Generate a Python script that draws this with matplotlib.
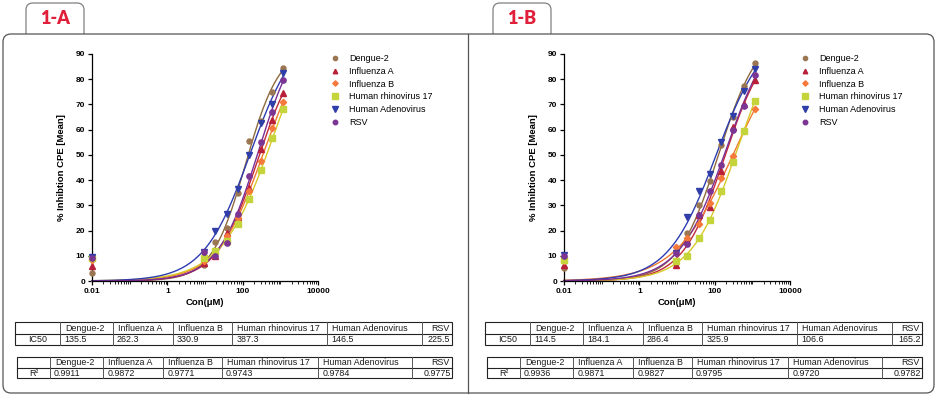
import numpy as np
import matplotlib
matplotlib.use("Agg")
import matplotlib.pyplot as plt
from matplotlib.patches import FancyBboxPatch, Rectangle
from matplotlib.ticker import FixedLocator, LogLocator, NullFormatter, FixedFormatter
from matplotlib.lines import Line2D

plt.rcParams['font.family'] = ['Liberation Sans', 'DejaVu Sans']

# ---------------- data ----------------
conc = [0.01, 9.375, 18.75, 37.5, 75, 150, 300, 600, 1200]
series_names = ["Dengue-2", "Influenza A", "Influenza B", "Human rhinovirus 17",
                "Human Adenovirus", "RSV"]

dengue_a = [3, 6.5, 15.5, 21, 35, 55.5, 63.5, 75, 84.5]
fluA_a = [6, 7, 10, 19, 25.5, 37, 52.5, 64, 74.5]
fluB_a = [8.5, 8, 11, 18, 25, 35.5, 47.5, 60.5, 71]
hrv_a = [9, 9, 12, 16, 22.5, 32.5, 44, 56.5, 68]
adeno_a = [9.5, 11.5, 20, 26.5, 36.5, 50, 62.5, 70, 82.5]
rsv_a = [9, 11.5, 10, 15, 26.5, 41.5, 55, 67, 79.5]

dengue_b = [5, 7, 19, 30, 39.5, 54, 65, 77.5, 86.5]
fluA_b = [6.5, 6.5, 16, 26, 29.5, 43.5, 61, 70, 79.5]
fluB_b = [8, 13.5, 17, 22.5, 31, 41, 49.5, 59.5, 68]
hrv_b = [8.5, 8, 10, 17, 24, 35.5, 47, 59.5, 71.5]
adeno_b = [10.5, 11, 25.5, 35.5, 42.5, 55, 65.5, 75.5, 84]
rsv_b = [10, 11, 14.5, 26, 35.5, 46, 60, 69.5, 81.5]

ic50_a = ["135.5", "262.3", "330.9", "387.3", "146.5", "225.5"]
r2_a = ["0.9911", "0.9872", "0.9771", "0.9743", "0.9784", "0.9775"]
ic50_b = ["114.5", "184.1", "286.4", "325.9", "106.6", "165.2"]
r2_b = ["0.9936", "0.9871", "0.9827", "0.9795", "0.9720", "0.9782"]

xtick_vals = [0.01, 1, 100, 10000]
xtick_labels = ["0.01", "1", "100", "10000"]
ytick_vals = [0, 10, 20, 30, 40, 50, 60, 70, 80, 90]

# ---------------- styles ----------------
marker_colors = ["#9b7653", "#b8203a", "#f5793a", "#c5d43a", "#2f3ea8", "#7b3593"]
line_colors = ["#8d6a3e", "#c0283a", "#f07a30", "#d8c828", "#2d3cb0", "#7a2f95"]
markers = ["o", "^", "D", "s", "v", "o"]
msizes = [3.6, 3.8, 3.2, 4.4, 4.4, 3.8]

W, H = 937, 397
fig = plt.figure(figsize=(W / 100, H / 100), dpi=100)

ov = fig.add_axes([0, 0, 1, 1], zorder=0)
ov.set_xlim(0, W)
ov.set_ylim(H, 0)
ov.axis('off')

# frame + tabs
for tx, lab in [(26, "1-A"), (493, "1-B")]:
    ov.add_patch(FancyBboxPatch((tx, 3), 58, 45, boxstyle="round,pad=0,rounding_size=7",
                                facecolor="white", edgecolor="#808080", lw=0.9, zorder=1))
    ov.text(tx + 29, 19, lab, color="#e0203a", fontsize=13, fontweight="heavy",
            family=["Lato", "DejaVu Sans"], ha="center", va="center", zorder=3)
ov.add_patch(FancyBboxPatch((3, 34), 931, 359, boxstyle="round,pad=0,rounding_size=8",
                            facecolor="white", edgecolor="#555555", lw=0.9, zorder=2))
ov.plot([468, 468], [34, 393], color="#555555", lw=0.9, zorder=3)


def fit_hill(x, y):
    x = np.asarray(x, float)
    y = np.asarray(y, float)
    tops = np.arange(60, 160, 1.0)
    lecs = np.arange(0.5, 4.0, 0.02)
    best = (np.inf, None)
    for h in np.arange(0.5, 3.0, 0.02):
        T = tops[:, None, None]
        L = lecs[None, :, None]
        pred = T / (1 + (10 ** L / x[None, None, :]) ** h)
        sse = ((pred - y[None, None, :]) ** 2).sum(axis=2)
        i = np.unravel_index(np.argmin(sse), sse.shape)
        if sse[i] < best[0]:
            best = (sse[i], (tops[i[0]], 10 ** lecs[i[1]], h))
    return best[1]


def draw_table(cols, y0, y1, y2, first, values):
    ov.add_patch(Rectangle((cols[0], y0), cols[-1] - cols[0], y2 - y0, fill=False,
                           edgecolor="#222222", lw=0.8, zorder=4))
    ov.plot([cols[0], cols[-1]], [y1, y1], color="#222222", lw=0.8, zorder=4)
    for c in cols[1:-1]:
        ov.plot([c, c], [y0, y2], color="#555555", lw=0.7, zorder=4)
    fs = 6.4
    tc = "#1a1a1a"
    ov.text((cols[0] + cols[1]) / 2, (y1 + y2) / 2 + 0.5, first, fontsize=fs, color=tc,
            ha="center", va="center", zorder=5)
    n = len(series_names)
    for k in range(n):
        if k == n - 1:
            ov.text(cols[k + 2] - 2.5, (y0 + y1) / 2 + 0.5, series_names[k], fontsize=fs,
                    color=tc, ha="right", va="center", zorder=5)
            ov.text(cols[k + 2] - 1.5, (y1 + y2) / 2 + 0.5, values[k], fontsize=fs,
                    color=tc, ha="right", va="center", zorder=5)
        else:
            ov.text(cols[k + 1] + 5, (y0 + y1) / 2 + 0.5, series_names[k], fontsize=fs,
                    color=tc, ha="left", va="center", zorder=5)
            ov.text(cols[k + 1] + 4, (y1 + y2) / 2 + 0.5, values[k], fontsize=fs,
                    color=tc, ha="left", va="center", zorder=5)


panels = [
    (0, [dengue_a, fluA_a, fluB_a, hrv_a, adeno_a, rsv_a], ic50_a, r2_a, 92),
    (470, [dengue_b, fluA_b, fluB_b, hrv_b, adeno_b, rsv_b], ic50_b, r2_b, 564),
]

for off, data, ic50, r2, axx in panels:
    ax = fig.add_axes([axx / W, (H - 281) / H, 226 / W, 227 / H], zorder=6)
    ax.patch.set_alpha(0)
    ax.set_xscale('log')
    xs = np.array(conc)
    xf = np.logspace(-2, np.log10(1200), 300)
    handles = []
    for k, yv in enumerate(data):
        yv = np.array(yv)
        T, ec, h = fit_hill(xs[1:], yv[1:])
        ax.plot(xf, T / (1 + (ec / xf) ** h), color=line_colors[k], lw=1.0, zorder=2,
                clip_on=False)
        ax.plot(xs, yv, linestyle="none", marker=markers[k], ms=msizes[k],
                color=marker_colors[k], mec=marker_colors[k], zorder=3, clip_on=False)
        handles.append(Line2D([], [], linestyle="none", marker=markers[k],
                              ms=msizes[k] * 0.85, color=marker_colors[k]))
    ax.set_xlim(0.01, 10000)
    ax.set_ylim(0, 90)
    ax.xaxis.set_major_locator(FixedLocator(xtick_vals))
    ax.xaxis.set_major_formatter(FixedFormatter(xtick_labels))
    ax.xaxis.set_minor_locator(LogLocator(base=10, subs=np.arange(1, 10), numticks=100))
    ax.xaxis.set_minor_formatter(NullFormatter())
    ax.set_yticks(ytick_vals)
    for s in ["top", "right"]:
        ax.spines[s].set_visible(False)
    for s in ["left", "bottom"]:
        ax.spines[s].set_linewidth(0.9)
    ax.tick_params(which="major", length=3, width=0.9, labelsize=6, pad=2)
    ax.tick_params(which="minor", length=1.8, width=0.6)
    for lbl in ax.get_xticklabels() + ax.get_yticklabels():
        lbl.set_fontweight("bold")
    ax.set_xlabel("Con(μM)", fontsize=6.8, fontweight="bold", labelpad=2)
    ax.set_ylabel("% Inhibtion CPE [Mean]", fontsize=6.8, fontweight="bold", labelpad=7)
    ax.legend(handles, series_names, loc="upper left",
              bbox_to_anchor=((331 + off) / W, (H - 54) / H),
              bbox_transform=fig.transFigure, frameon=False, fontsize=6.5,
              handlelength=0.8, handletextpad=1.2, labelspacing=0.42,
              borderaxespad=0, borderpad=0)
    cols_ic = [15, 60, 113, 173, 232.5, 327.5, 422.5, 452]
    cols_r2 = [17, 50, 103.3, 163.3, 222, 318.3, 412, 452.3]
    draw_table([c + off for c in cols_ic], 322.3, 333.5, 344.7, "IC50", ic50)
    draw_table([c + off for c in cols_r2], 356.7, 367.5, 378.3, "R²", r2)

fig.savefig("out.png", dpi=100)
